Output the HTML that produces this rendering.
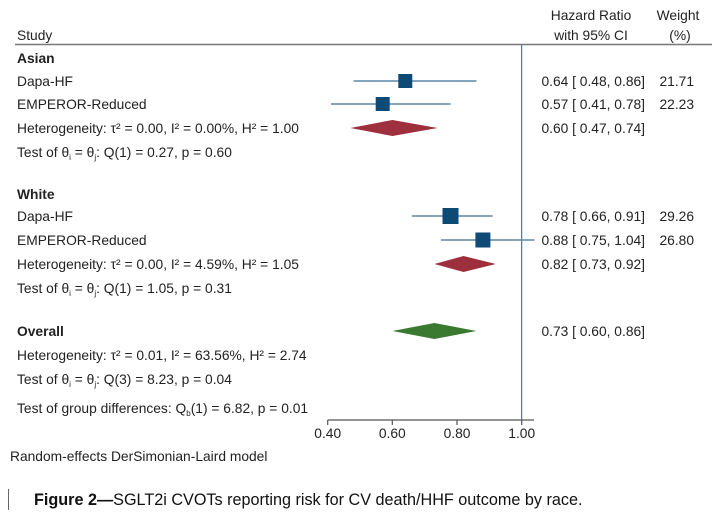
<!DOCTYPE html>
<html><head><meta charset="utf-8"><style>
html,body{margin:0;padding:0;background:#fff;}
svg{display:block;font-family:"Liberation Sans",Arial,sans-serif;}
</style></head><body>
<svg width="715" height="523" viewBox="0 0 715 523" xmlns="http://www.w3.org/2000/svg">
<g font-size="13.8" fill="#222">
<text x="17" y="40">Study</text>
<text x="591" y="20" text-anchor="middle">Hazard Ratio</text>
<text x="591" y="40" text-anchor="middle">with 95% CI</text>
<text x="678" y="20" text-anchor="middle">Weight</text>
<text x="680" y="40" text-anchor="middle">(%)</text>
</g>
<line x1="15" y1="44.5" x2="712" y2="44.5" stroke="#777" stroke-width="1.5"/>
<line x1="521.7" y1="45" x2="521.7" y2="421" stroke="#1f5fa8" stroke-width="1"/>
<g font-size="13.8" fill="#222">
<text x="17" y="63" font-weight="bold">Asian</text>
<text x="17" y="86">Dapa-HF</text>
<text x="17" y="109">EMPEROR-Reduced</text>
<text x="17" y="133">Heterogeneity: τ² = 0.00, I² = 0.00%, H² = 1.00</text>
<text x="17" y="157">Test of θ<tspan font-size="8" dy="3">i</tspan><tspan dy="-3"> = θ</tspan><tspan font-size="8" dy="3">j</tspan><tspan dy="-3">: Q(1) = 0.27, p = 0.60</tspan></text>
<text x="17" y="199" font-weight="bold">White</text>
<text x="17" y="221">Dapa-HF</text>
<text x="17" y="245">EMPEROR-Reduced</text>
<text x="17" y="269">Heterogeneity: τ² = 0.00, I² = 4.59%, H² = 1.05</text>
<text x="17" y="293">Test of θ<tspan font-size="8" dy="3">i</tspan><tspan dy="-3"> = θ</tspan><tspan font-size="8" dy="3">j</tspan><tspan dy="-3">: Q(1) = 1.05, p = 0.31</tspan></text>
<text x="17" y="336" font-weight="bold">Overall</text>
<text x="17" y="360">Heterogeneity: τ² = 0.01, I² = 63.56%, H² = 2.74</text>
<text x="17" y="384">Test of θ<tspan font-size="8" dy="3">i</tspan><tspan dy="-3"> = θ</tspan><tspan font-size="8" dy="3">j</tspan><tspan dy="-3">: Q(3) = 8.23, p = 0.04</tspan></text>
<text x="17" y="413">Test of group differences: Q<tspan font-size="8" dy="3">b</tspan><tspan dy="-3">(1) = 6.82, p = 0.01</tspan></text>
<text x="10" y="461">Random-effects DerSimonian-Laird model</text>
</g>
<g font-size="13.8" fill="#222" text-anchor="end">
<text x="645" y="86">0.64 [ 0.48,  0.86]</text>
<text x="694" y="86">21.71</text>
<text x="645" y="109">0.57 [ 0.41,  0.78]</text>
<text x="694" y="109">22.23</text>
<text x="645" y="133">0.60 [ 0.47,  0.74]</text>
<text x="645" y="221">0.78 [ 0.66,  0.91]</text>
<text x="694" y="221">29.26</text>
<text x="645" y="245">0.88 [ 0.75,  1.04]</text>
<text x="694" y="245">26.80</text>
<text x="645" y="269">0.82 [ 0.73,  0.92]</text>
<text x="645" y="336">0.73 [ 0.60,  0.86]</text>
</g>
<g stroke="#5b87a8" stroke-width="1.5">
<line x1="353.6" y1="81" x2="476.4" y2="81"/>
<line x1="331" y1="104" x2="450.6" y2="104"/>
<line x1="411.8" y1="216" x2="492.6" y2="216"/>
<line x1="440.9" y1="240" x2="534.6" y2="240"/>
</g>
<g fill="#0d4a75">
<rect x="398.3" y="74" width="14" height="14"/>
<rect x="375.7" y="97" width="14" height="14"/>
<rect x="442.5" y="208" width="16" height="16"/>
<rect x="475.4" y="232.5" width="15" height="15"/>
</g>
<polygon points="350.3,128 392.4,120 437.6,128 392.4,136" fill="#9e2f3d"/>
<polygon points="434.4,264 463.5,256 495.8,264 463.5,272" fill="#9e2f3d"/>
<polygon points="392.4,331 434.4,323 476.4,331 434.4,339" fill="#3a7a30"/>
<g stroke="#555" stroke-width="1.2">
<line x1="327.7" y1="420" x2="534" y2="420"/>
<line x1="327.7" y1="420" x2="327.7" y2="425"/>
<line x1="392.3" y1="420" x2="392.3" y2="425"/>
<line x1="457" y1="420" x2="457" y2="425"/>
<line x1="521.7" y1="420" x2="521.7" y2="425"/>
</g>
<g font-size="13.8" fill="#222" text-anchor="middle">
<text x="327.7" y="438">0.40</text>
<text x="392.3" y="438">0.60</text>
<text x="457" y="438">0.80</text>
<text x="521.7" y="438">1.00</text>
</g>
<line x1="8.5" y1="489" x2="8.5" y2="510" stroke="#666" stroke-width="1"/>
<text x="34" y="505" font-size="16.2" fill="#111"><tspan font-weight="bold">Figure 2—</tspan>SGLT2i CVOTs reporting risk for CV death/HHF outcome by race.</text>
</svg>
</body></html>
